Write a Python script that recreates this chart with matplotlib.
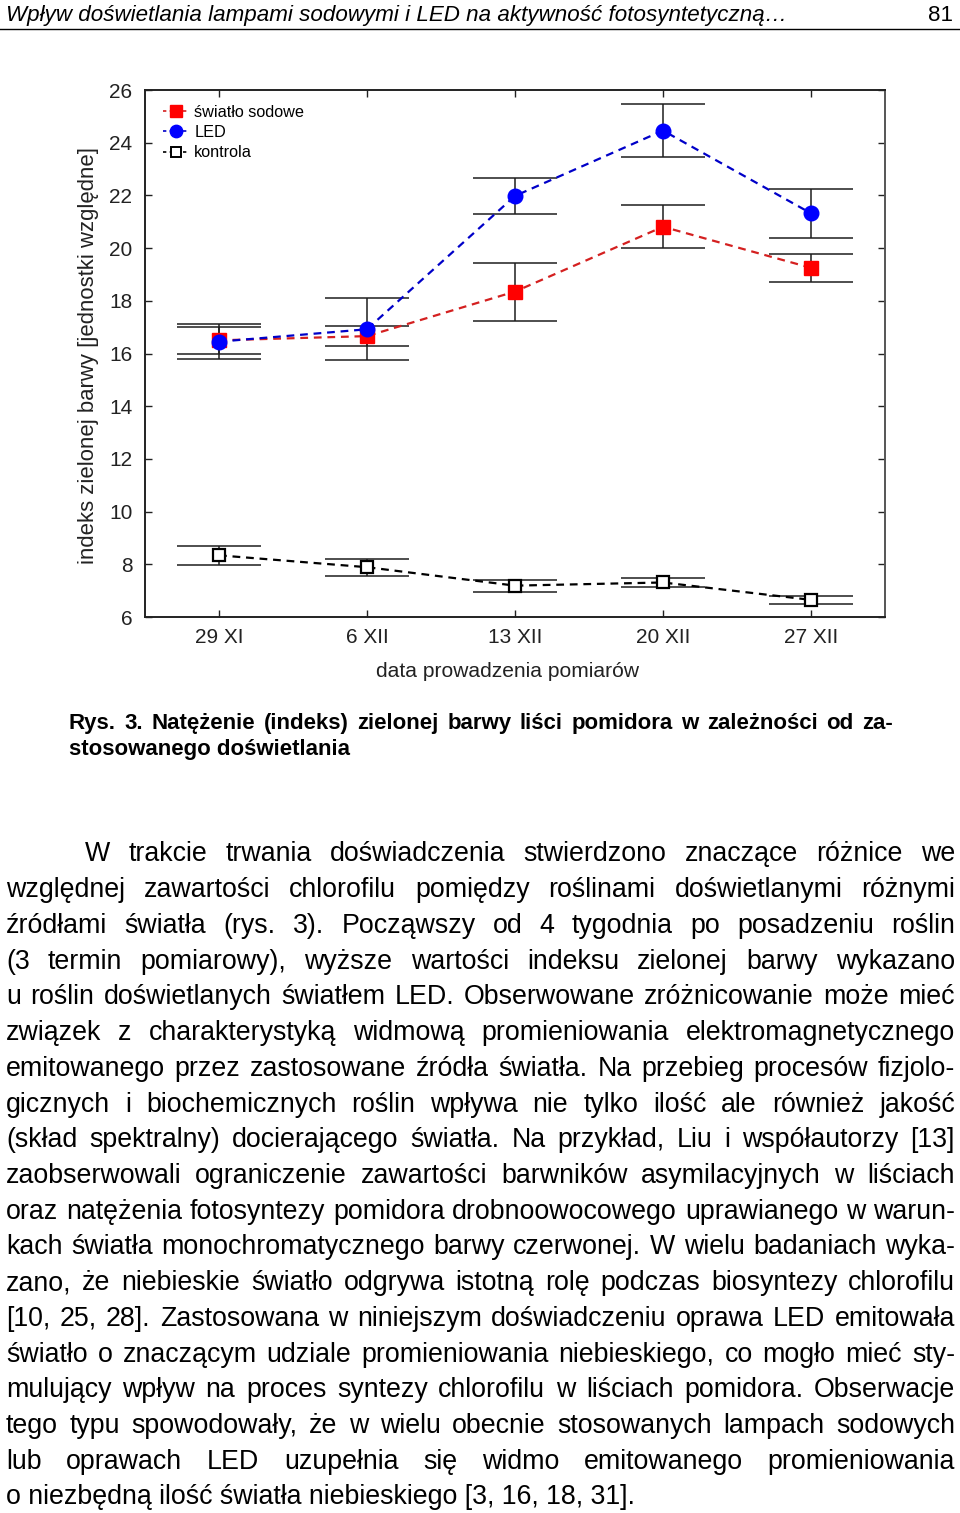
import matplotlib
matplotlib.use('Agg')
import matplotlib.pyplot as plt
from matplotlib.lines import Line2D
import numpy as np

# ---------------- data ----------------
dates = ['29 XI', '6 XII', '13 XII', '20 XII', '27 XII']
sodium = [16.50, 16.66, 18.35, 20.81, 19.25]
sodium_err = [0.51, 0.37, 1.10, 0.81, 0.54]
led = [16.45, 16.92, 21.98, 24.46, 21.32]
led_err = [0.66, 1.18, 0.69, 0.99, 0.93]
control = [8.34, 7.89, 7.19, 7.31, 6.65]
control_err = [0.36, 0.32, 0.23, 0.16, 0.15]
series_names = ['światło sodowe', 'LED', 'kontrola']
yticks = [6, 8, 10, 12, 14, 16, 18, 20, 22, 24, 26]

header = 'Wpływ doświetlania lampami sodowymi i LED na aktywność fotosyntetyczną…'
page_no = '81'
caption = ['Rys. 3. Natężenie (indeks) zielonej barwy liści pomidora w zależności od za-',
           'stosowanego doświetlania']
body = [
    'W trakcie trwania doświadczenia stwierdzono znaczące różnice we',
    'względnej zawartości chlorofilu pomiędzy roślinami doświetlanymi różnymi',
    'źródłami światła (rys. 3). Począwszy od 4 tygodnia po posadzeniu roślin',
    '(3 termin pomiarowy), wyższe wartości indeksu zielonej barwy wykazano',
    'u roślin doświetlanych światłem LED. Obserwowane zróżnicowanie może mieć',
    'związek z charakterystyką widmową promieniowania elektromagnetycznego',
    'emitowanego przez zastosowane źródła światła. Na przebieg procesów fizjolo-',
    'gicznych i biochemicznych roślin wpływa nie tylko ilość ale również jakość',
    '(skład spektralny) docierającego światła. Na przykład, Liu i współautorzy [13]',
    'zaobserwowali ograniczenie zawartości barwników asymilacyjnych w liściach',
    'oraz natężenia fotosyntezy pomidora drobnoowocowego uprawianego w warun-',
    'kach światła monochromatycznego barwy czerwonej. W wielu badaniach wyka-',
    'zano, że niebieskie światło odgrywa istotną rolę podczas biosyntezy chlorofilu',
    '[10, 25, 28]. Zastosowana w niniejszym doświadczeniu oprawa LED emitowała',
    'światło o znaczącym udziale promieniowania niebieskiego, co mogło mieć sty-',
    'mulujący wpływ na proces syntezy chlorofilu w liściach pomidora. Obserwacje',
    'tego typu spowodowały, że w wielu obecnie stosowanych lampach sodowych',
    'lub oprawach LED uzupełnia się widmo emitowanego promieniowania',
    'o niezbędną ilość światła niebieskiego [3, 16, 18, 31].',
]

# ---------------- figure ----------------
W, H = 960, 1513
plt.rcParams['font.family'] = ['Liberation Sans', 'DejaVu Sans']
fig = plt.figure(figsize=(W / 100, H / 100), dpi=100)
renderer = fig.canvas.get_renderer()


def text_width(s, **kw):
    t = fig.text(0, 0, s, **kw)
    w = t.get_window_extent(renderer).width
    t.remove()
    return w


def fit_size(s, target, **kw):
    base = 12
    return base * target / text_width(s, fontsize=base, **kw)


def put(xp, yp, s, **kw):
    return fig.text(xp / W, 1 - yp / H, s, va='baseline', **kw)


def justify(line, x0, x1, yb, fs, **kw):
    words = line.split(' ')
    widths = [text_width(w, fontsize=fs, **kw) for w in words]
    gap = (x1 - x0 - sum(widths)) / (len(words) - 1)
    xp = x0
    for w, wd in zip(words, widths):
        put(xp, yb, w, fontsize=fs, ha='left', **kw)
        xp += wd + gap


# header
hfs = fit_size(header, 780, style='italic')
put(6, 21, header, fontsize=hfs, style='italic', ha='left')
put(953, 21, page_no, fontsize=hfs, ha='right')
fig.add_artist(Line2D([0, 1], [1 - 29 / H, 1 - 29 / H], color='black', lw=1.0))

# ---------------- chart ----------------
ax = fig.add_axes([145 / W, 1 - 617 / H, 740 / W, 527 / H])
x = np.arange(len(dates))

specs = [
    (sodium, sodium_err, 's', '#ff0000', '#ff0000', '#d42020', 10),
    (led, led_err, 'o', '#0000ff', '#0000ff', '#0000c8', 10.5),
    (control, control_err, 's', 'white', 'black', 'black', 8.5),
]
handles = []
for (vals, err, mk, fc, ec, lc, ms), name in zip(specs, series_names):
    ax.errorbar(x, vals, yerr=err, fmt='none', ecolor='#1e1e1e', elinewidth=1.1,
                capsize=30, capthick=1.1, zorder=2)
    ax.plot(x, vals, ls=(0, (3.5, 2.6)), color=lc, lw=1.6, zorder=3)
    ax.plot(x, vals, ls='none', marker=mk, ms=ms, mfc=fc, mec=ec,
            mew=1.6 if fc == 'white' else 1.0, zorder=4)
    handles.append(Line2D([], [], ls=(0, (2, 2)), color=lc, lw=1.2, marker=mk,
                          ms=ms * 0.85, mfc=fc, mec=ec, mew=1.4 if fc == 'white' else 1.0))

ax.set_xlim(-0.5, 4.5)
ax.set_ylim(6, 26)
ax.set_xticks(x)
ax.set_xticklabels(dates)
ax.set_yticks(yticks)
ax.tick_params(direction='in', top=True, right=True, length=5, width=1,
               labelsize=15, colors='#222222')
ax.tick_params(axis='x', pad=8)
ax.tick_params(axis='y', pad=9)
for s in ax.spines.values():
    s.set_linewidth(1.4)
    s.set_color('#222222')
ax.spines['right'].set_color('#555555')

ax.set_xlabel('data prowadzenia pomiarów', fontsize=15.1, color='#222222')
ax.xaxis.set_label_coords((507 - 145) / 740, (617 - 671) / 527)
ax.xaxis.label.set_va('center')
ax.set_ylabel('indeks zielonej barwy [jednostki względne]', fontsize=15.9, color='#222222')
ax.yaxis.set_label_coords((89 - 145) / 740, (617 - 355) / 527)
ax.yaxis.label.set_va('center')

leg = ax.legend(handles, series_names, loc='upper left', frameon=False,
                fontsize=11.7, handlelength=1.6, handletextpad=0.3,
                labelspacing=0.33, borderaxespad=0.3, bbox_to_anchor=(0.0095, 0.994))

# ---------------- caption ----------------
cfs = fit_size(caption[1], 281, weight='bold')
justify(caption[0], 69, 893, 729, cfs, weight='bold')
put(69, 755, caption[1], fontsize=cfs, weight='bold', ha='left')

# ---------------- body text ----------------
bfs = fit_size(body[-1], 630)
y0, dy = 861.5, 35.72
for i, line in enumerate(body):
    yb = y0 + i * dy
    if i == len(body) - 1:
        put(6, yb, line, fontsize=bfs, ha='left')
    else:
        justify(line, 85 if i == 0 else 6, 955, yb, bfs)

fig.savefig('out.png', dpi=100)
